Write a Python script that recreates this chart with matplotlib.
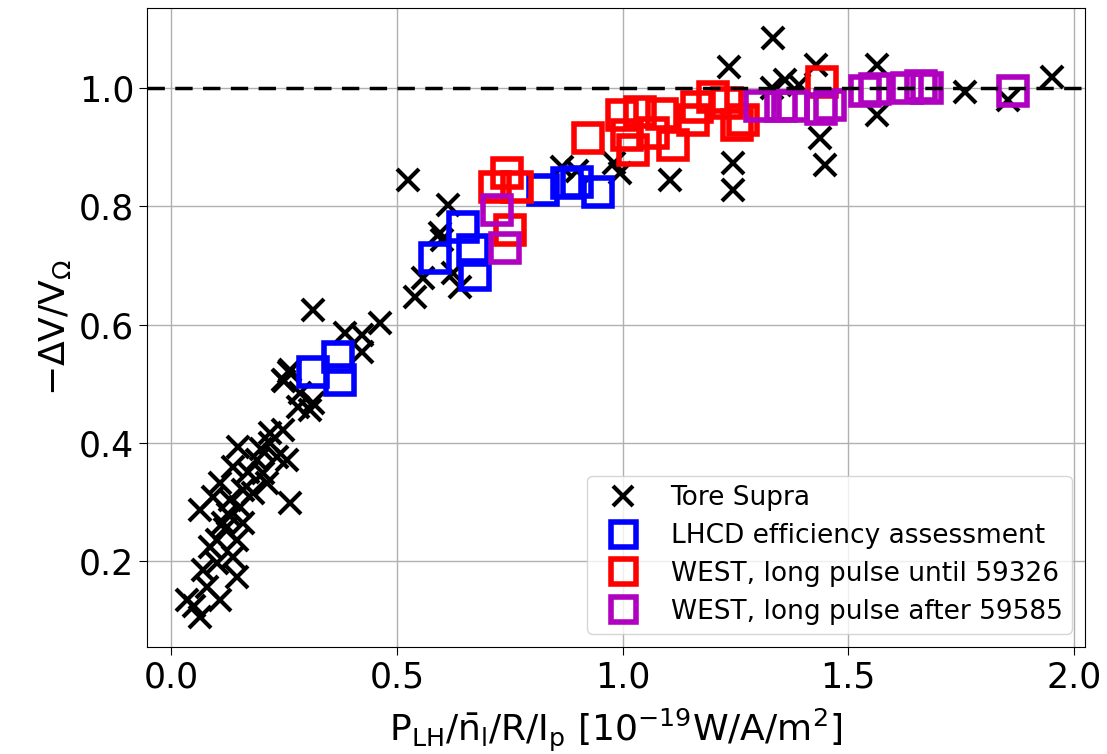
import matplotlib
matplotlib.use('Agg')
import matplotlib.pyplot as plt

# Tore Supra database
ts_x = [1.333, 1.236, 1.429, 1.564, 1.951, 1.759, 1.854, 1.564, 1.437, 1.449,
        1.245, 1.245, 1.36, 1.33, 1.39, 1.105, 0.994, 0.98, 0.866, 0.90,
        0.525, 0.614, 0.596, 0.60, 0.558, 0.54, 0.64, 0.625, 0.315, 0.463,
        0.423, 0.385, 0.423, 0.264, 0.248, 0.286, 0.315, 0.25, 0.26,
        0.308, 0.28, 0.248, 0.219, 0.148, 0.137, 0.19, 0.234, 0.256, 0.264,
        0.182, 0.212, 0.204, 0.109, 0.093, 0.064, 0.153, 0.131, 0.159, 0.115,
        0.102, 0.146, 0.086, 0.137, 0.102, 0.071, 0.146, 0.08, 0.109, 0.035,
        0.064, 0.05, 0.125, 0.17, 0.20, 0.22, 0.16, 0.12]
ts_y = [1.085, 1.036, 1.039, 1.039, 1.019, 0.993, 0.980, 0.954, 0.915, 0.870,
        0.873, 0.828, 1.014, 1.0, 1.005, 0.844, 0.856, 0.873, 0.866, 0.86,
        0.844, 0.802, 0.755, 0.743, 0.679, 0.647, 0.664, 0.687, 0.625, 0.603,
        0.582, 0.586, 0.554, 0.523, 0.506, 0.484, 0.467, 0.505, 0.52,
        0.456, 0.46, 0.422, 0.417, 0.393, 0.359, 0.371, 0.376, 0.371, 0.298,
        0.315, 0.332, 0.349, 0.332, 0.309, 0.287, 0.292, 0.303, 0.265, 0.265,
        0.236, 0.236, 0.224, 0.207, 0.197, 0.185, 0.173, 0.156, 0.134, 0.134,
        0.106, 0.125, 0.28, 0.35, 0.39, 0.40, 0.32, 0.255]

# LHCD efficiency assessment
lh_x = [0.315, 0.37, 0.374, 0.585, 0.647, 0.669, 0.673, 0.824, 0.877, 0.899, 0.946]
lh_y = [0.52, 0.545, 0.506, 0.713, 0.765, 0.726, 0.684, 0.828, 0.839, 0.841, 0.824]

# WEST, long pulse until 59326
w1_x = [0.717, 0.744, 0.766, 0.75, 0.924, 0.999, 1.039, 1.088, 1.023, 1.112,
        1.01, 1.068, 1.165, 1.2, 1.231, 1.253, 1.156, 1.267, 1.442]
w1_y = [0.833, 0.856, 0.833, 0.76, 0.915, 0.954, 0.96, 0.957, 0.895, 0.904,
        0.92, 0.924, 0.968, 0.985, 0.974, 0.937, 0.946, 0.946, 1.01]

# WEST, long pulse after 59585
w2_x = [0.722, 0.74, 1.305, 1.35, 1.378, 1.44, 1.46, 1.537, 1.56, 1.63, 1.66, 1.675, 1.865]
w2_y = [0.794, 0.73, 0.97, 0.97, 0.97, 0.965, 0.972, 0.995, 0.998, 1.0, 1.003, 1.0, 0.995]


def main():
    fig = plt.figure(figsize=(11.07, 7.54), dpi=100)
    ax = fig.add_axes([0.133, 0.142, 0.847, 0.847])

    ax.plot(ts_x, ts_y, 'x', color='black', markersize=16, markeredgewidth=3,
            label='Tore Supra', zorder=3)
    ax.plot(lh_x, lh_y, 's', color='blue', markerfacecolor='none', markersize=20,
            markeredgewidth=4, label='LHCD efficiency assessment', zorder=4)
    ax.plot(w1_x, w1_y, 's', color='red', markerfacecolor='none', markersize=20,
            markeredgewidth=4, label='WEST, long pulse until 59326', zorder=4)
    ax.plot(w2_x, w2_y, 's', color='#b000c0', markerfacecolor='none', markersize=20,
            markeredgewidth=4, label='WEST, long pulse after 59585', zorder=5)

    ax.axhline(1.0, color='black', linestyle='--', linewidth=2.5, dashes=(5, 3), zorder=6)

    ax.set_xlim(-0.053, 2.024)
    ax.set_ylim(0.055, 1.135)
    ax.set_xticks([0.0, 0.5, 1.0, 1.5, 2.0])
    ax.set_yticks([0.2, 0.4, 0.6, 0.8, 1.0])
    ax.tick_params(labelsize=25, length=6)
    ax.grid(True, color='#b0b0b0', linewidth=1)
    ax.set_axisbelow(True)

    ax.set_xlabel(r'$\mathrm{P_{LH}/\bar{n}_l/R/I_p\ [10^{-19}W/A/m^2]}$', fontsize=26,
                  labelpad=9)
    ax.set_ylabel(r'$-\Delta \mathrm{V/V}_{\Omega}$', fontsize=26)

    ax.legend(loc='lower right', fontsize=19, handletextpad=0.8, borderpad=0.35,
              labelspacing=0.45, markerscale=0.9)

    fig.savefig('out.png', dpi=100)


if __name__ == "__main__":
    main()
